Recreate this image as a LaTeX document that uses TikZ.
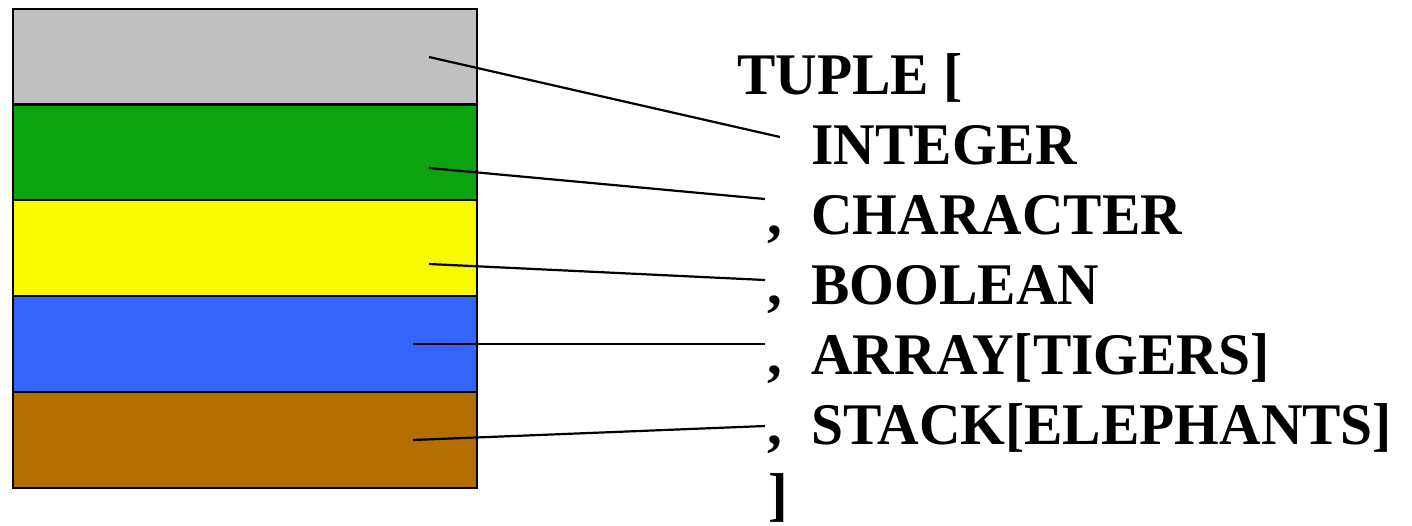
\documentclass[tikz,border=0pt]{standalone}
\usepackage{fontspec}
\setmainfont{Liberation Serif}
\definecolor{bandgray}{RGB}{192,192,192}
\definecolor{bandgreen}{RGB}{12,164,14}
\definecolor{bandyellow}{RGB}{248,250,0}
\definecolor{bandblue}{RGB}{53,100,250}
\definecolor{bandbrown}{RGB}{179,111,0}
\newcommand\narrowtxt[1]{\scalebox{0.975}[1]{#1}}
\tikzset{
  band/.style={draw=black, line width=1.1pt, inner sep=0pt, minimum width=232pt, minimum height=47.9pt},
  lbl/.style={anchor=base west, inner sep=0pt, font=\fontsize{29.5}{35}\selectfont\bfseries},
  conn/.style={draw=black, line width=1.1pt}
}
\begin{document}
\begin{tikzpicture}[x=0.5pt, y=-0.5pt]
\useasboundingbox (0,0) rectangle (1412,525);
% bands
\node[band, fill=bandgray]   (b1) at (245,56.5)  {};
\node[band, fill=bandgreen]  (b2) at (245,152.3) {};
\node[band, fill=bandyellow] (b3) at (245,248.1) {};
\node[band, fill=bandblue]   (b4) at (245,343.9) {};
\node[band, fill=bandbrown]  (b5) at (245,439.7) {};
% labels
\node[lbl] (t0) at (737,94)  {\narrowtxt{TUPLE [}};
\node[lbl] (t1) at (811,164) {\narrowtxt{INTEGER}};
\node[lbl] (c2) at (767,234) {,};
\node[lbl] (t2) at (811,234) {\narrowtxt{CHARACTER}};
\node[lbl] (c3) at (767,304) {,};
\node[lbl] (t3) at (811,304) {\narrowtxt{BOOLEAN}};
\node[lbl] (c4) at (767,374) {,};
\node[lbl] (t4) at (811,374) {\narrowtxt{ARRAY[TIGERS]}};
\node[lbl] (c5) at (767,444) {,};
\node[lbl] (t5) at (811,444) {\narrowtxt{STACK[ELEPHANTS]}};
\node[lbl] (t6) at (768,514) {]};
% connector ends
\coordinate (p1) at (429,57);
\coordinate (p2) at (429,168);
\coordinate (p3) at (429,264);
\coordinate (p4) at (413,344);
\coordinate (p5) at (413,440);
\coordinate (q1) at (780,137);
\coordinate (q2) at (765,199);
\coordinate (q3) at (765,280);
\coordinate (q4) at (765,344);
\coordinate (q5) at (765,426);
\draw[conn] (p1) -- (q1);
\draw[conn] (p2) -- (q2);
\draw[conn] (p3) -- (q3);
\draw[conn] (p4) -- (q4);
\draw[conn] (p5) -- (q5);
\end{tikzpicture}
\end{document}
